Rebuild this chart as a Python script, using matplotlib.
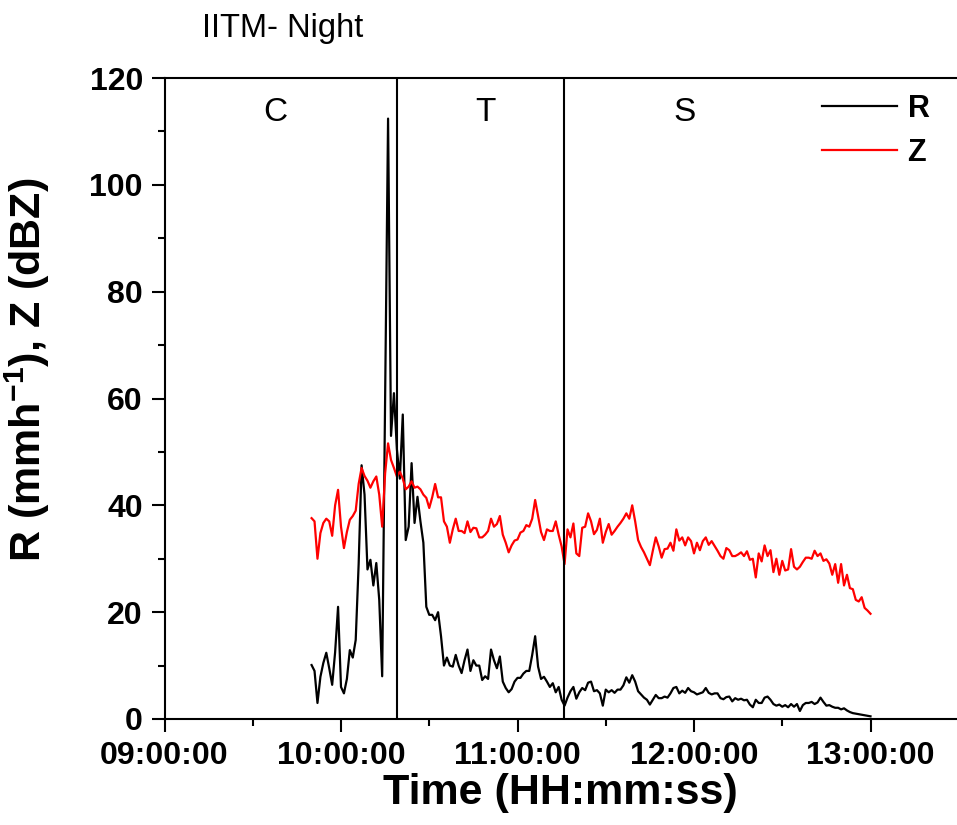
import matplotlib
matplotlib.use('Agg')
import matplotlib.pyplot as plt
from matplotlib.ticker import MultipleLocator, FuncFormatter
import numpy as np

# Data: one sample per minute starting at 09:50:00
start_time = '09:50:00'

z_dbz = [
    37.6, 37, 30, 34.8, 36.7, 37.5, 37, 34.3, 40, 42.9,
    36, 32, 35, 37.3, 38, 39, 44, 47, 45.5, 44.6,
    43.3, 44.5, 45.4, 42, 36, 46, 51.6, 48.5, 47, 45.4,
    46.3, 45, 43, 43.5, 44.5, 43.3, 43.5, 43, 42, 41.4,
    39.5, 41.5, 44, 41.5, 41.5, 37, 36, 33, 35.5, 37.5,
    35.2, 35.2, 34.8, 37, 35, 35.8, 35.7, 34, 34, 34.5,
    35.2, 37.5, 36, 36.5, 38, 34.5, 33, 31.2, 32.5, 33.4,
    33.6, 34.9, 35.2, 36.3, 36, 37.5, 41, 38, 35, 33.5,
    35.5, 35.2, 35.2, 37, 34.5, 32.3, 29, 35.5, 34, 36.6,
    31, 30.5, 35.8, 36, 38.5, 37, 34.6, 35.4, 37.5, 33,
    35, 36.5, 34.5, 35.2, 36, 36.7, 37.5, 38.5, 37.5, 40,
    37, 33.5, 32.2, 31.2, 30, 28.8, 31.5, 34, 32.3, 30.2,
    31.8, 31.9, 33, 31.5, 35.5, 33.4, 34, 32.5, 34, 33.3,
    31, 33, 31.6, 33.3, 34, 32.6, 33.3, 32.4, 31.5, 30.5,
    30, 32, 31.6, 30.5, 30.5, 30.8, 31.2, 30.5, 31.4, 29.8,
    30, 26.5, 31, 29.5, 32.5, 30.5, 31.6, 27.5, 30, 27,
    29.6, 27.8, 28, 31.8, 28.5, 28, 28.5, 29.4, 30.2, 30.2,
    30, 31.5, 30.5, 31, 29.6, 29.9, 29.1, 27, 29, 25.5,
    29, 25, 27, 24.5, 24.3, 22.3, 22, 22.8, 20.8, 20.3,
    19.7,
]

r_mmh = [
    10.1, 9, 3, 7.9, 10.5, 12.4, 9.5, 6.4, 12.5, 21,
    6, 4.8, 7.5, 12.9, 11.5, 14.8, 29, 47.5, 42, 28,
    29.8, 25, 29.2, 22.3, 8, 60, 112.4, 53, 61, 50.5,
    45, 57, 33.5, 36, 47.9, 36.7, 41.6, 37, 33, 21,
    19.5, 19.5, 18.5, 20, 15.5, 10, 11.5, 10, 9.8, 12,
    10, 8.6, 11, 13, 9, 11, 10, 10, 7.3, 8,
    7.5, 13, 11, 9.5, 11.7, 7, 5.8, 5, 5.6, 7,
    7.7, 7.7, 8.5, 9, 9, 12, 15.5, 9.8, 7.5, 7.9,
    7, 6, 6.7, 5, 6, 3.6, 2.5, 4, 5.2, 6,
    3.8, 5, 5.8, 5.4, 6.8, 7, 5.2, 5.4, 4.8, 2.5,
    5.5, 5, 5.4, 4.9, 5.5, 5.5, 6.3, 7.8, 6.8, 8.2,
    7, 5.2, 4.6, 4, 3.6, 2.7, 3.6, 4.5, 3.9, 3.9,
    4.2, 4, 4.8, 5.8, 6, 4.8, 5.3, 4.9, 5.8, 5.2,
    5, 4.6, 4.8, 5, 5.8, 4.9, 4.6, 4.8, 4.8, 3.9,
    3.7, 4.1, 4.2, 3.3, 3.9, 3.6, 3.8, 3.5, 3.6, 2.7,
    2.2, 3.6, 3, 3, 4, 4.2, 3.6, 2.8, 2.5, 2.7,
    2.3, 2.6, 2.2, 2.8, 2.3, 2.8, 1.5, 2.6, 3, 3,
    3.2, 2.8, 3.1, 4, 3.2, 2.5, 2.6, 2.3, 2.1, 2.1,
    1.8, 2, 1.6, 1.3, 1.1, 1, 0.9, 0.8, 0.7, 0.6,
    0.5,
]

boundary_times = ['10:18:56', '11:15:49']
regime_labels = ['C', 'T', 'S']
regime_times = ['09:37:34', '10:48:58', '11:56:56']


def to_hours(hms):
    '''HH:MM:SS string to decimal hours'''
    h, m, s = (int(v) for v in hms.split(':'))
    return h + m / 60 + s / 3600


def hms_label(x, pos):
    total = int(round(x * 3600))
    return '%02d:%02d:%02d' % (total // 3600, total % 3600 // 60, total % 60)


def main():
    plt.rcParams['font.family'] = ['Liberation Sans', 'DejaVu Sans']
    plt.rcParams['mathtext.fontset'] = 'custom'
    plt.rcParams['mathtext.rm'] = 'Liberation Sans'
    plt.rcParams['mathtext.bf'] = 'Liberation Sans:bold'

    t0 = to_hours(start_time)
    times = t0 + np.arange(len(z_dbz)) / 60

    fig = plt.figure(figsize=(9.57, 8.25), dpi=100)
    ax = fig.add_axes([164.5 / 957, 106 / 825, 1 - 164.5 / 957, 641 / 825])

    ax.plot(times, r_mmh, color='black', lw=1.6, label='R')
    ax.plot(times, z_dbz, color='red', lw=1.6, label='Z')
    for bt in boundary_times:
        ax.axvline(to_hours(bt), color='black', lw=1.5)
    for lab, rt in zip(regime_labels, regime_times):
        ax.text(to_hours(rt), 112, lab, ha='center', va='baseline', fontsize=24)

    ax.set_xlim(9, 9 + 792.5 / 176.5)
    ax.set_ylim(0, 120)
    ax.xaxis.set_major_locator(MultipleLocator(1))
    ax.xaxis.set_minor_locator(MultipleLocator(0.5))
    ax.xaxis.set_major_formatter(FuncFormatter(hms_label))
    ax.yaxis.set_major_locator(MultipleLocator(20))
    ax.yaxis.set_minor_locator(MultipleLocator(10))

    ax.spines['right'].set_visible(False)
    for sp in ax.spines.values():
        sp.set_linewidth(1.5)
    ax.tick_params(which='major', direction='out', length=9.5, width=1.5, pad=6)
    ax.tick_params(which='minor', direction='out', length=5, width=1.5)
    ax.tick_params(axis='both', labelsize=23)
    for lbl in ax.get_xticklabels() + ax.get_yticklabels():
        lbl.set_fontweight('bold')

    ax.set_xlabel('Time (HH:mm:ss)', fontsize=31, fontweight='bold', labelpad=2)
    ax.set_ylabel(r'R (mmh$^{\mathbf{-1}}$), Z (dBZ)', fontsize=31, fontweight='bold')
    ax.yaxis.set_label_coords(-0.142, 0.545)

    ax.legend(loc='upper left', bbox_to_anchor=(822 / 957, 1 - 94 / 825),
              bbox_transform=fig.transFigure, frameon=False, borderpad=0,
              borderaxespad=0, handlelength=2.45, handletextpad=0.35,
              labelspacing=0.45, prop={'weight': 'bold', 'size': 22})

    fig.text(202 / 957, 1 - 37 / 825, 'IITM- Night', fontsize=23.5, va='baseline')

    fig.savefig('out.png', dpi=100)


if __name__ == "__main__":
    main()
